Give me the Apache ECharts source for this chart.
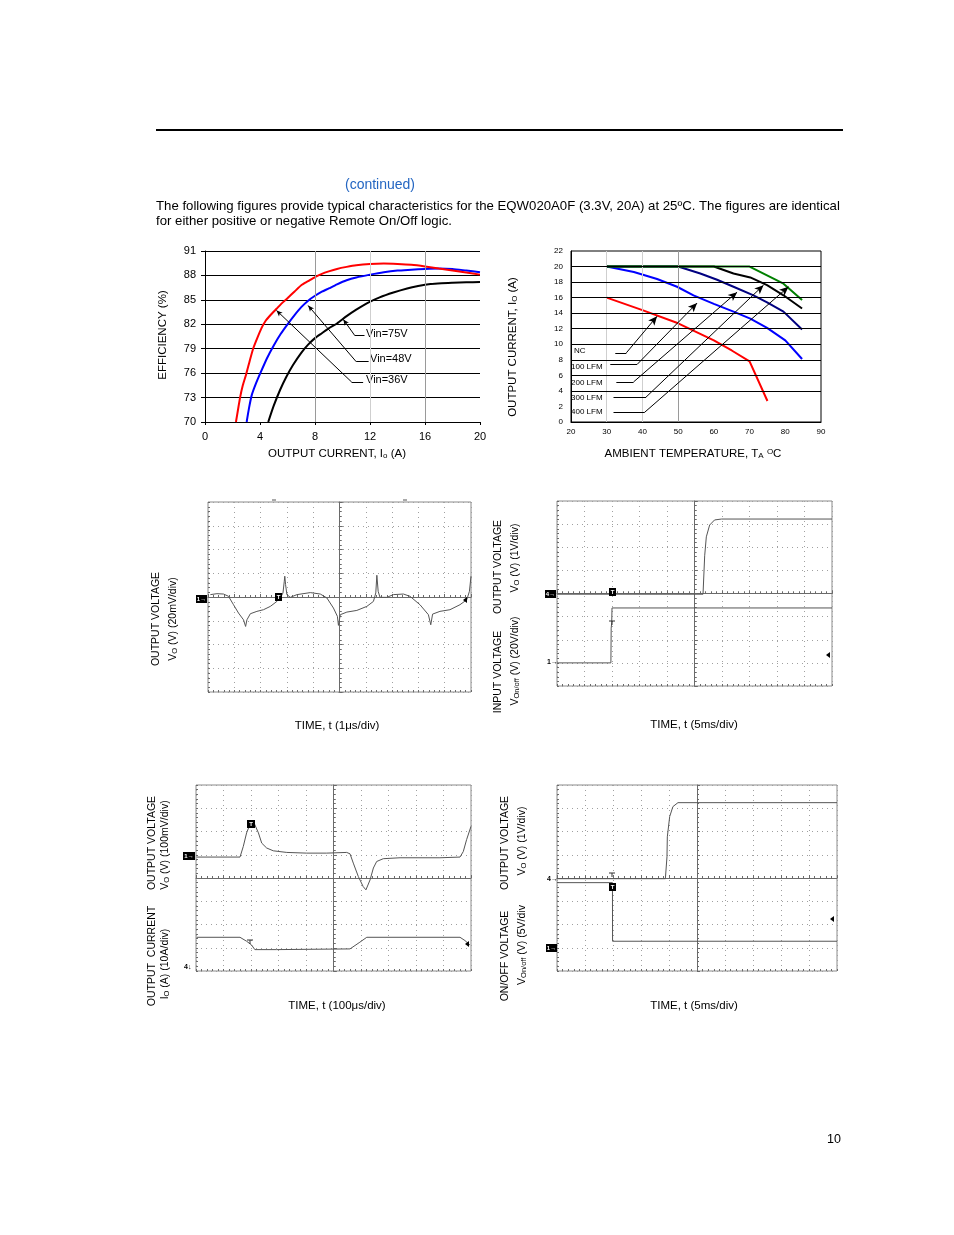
<!DOCTYPE html>
<html><head><meta charset="utf-8">
<script src="https://cdn.jsdelivr.net/npm/echarts@6/dist/echarts.min.js"></script>
<style>html,body{margin:0;padding:0;background:#fff}#c{width:954px;height:1235px}</style>
</head><body><div id="c"></div>
<script>
const FONT = '"Liberation Sans", Arial, sans-serif';

// ---------- Efficiency vs output current ----------
const effXTicks = [0, 4, 8, 12, 16, 20];
const effYTicks = [70, 73, 76, 79, 82, 85, 88, 91];
const effVGrid = [8, 12, 16];
const effVGridColors = ['#9a9a9a', '#cfcfcf', '#9a9a9a'];
const eff36V = [[2.25,70],[2.4,71.5],[2.55,73],[2.75,74.5],[3.0,75.9],[3.25,77.5],[3.5,79],[3.8,80.3],[4.1,81.5],[4.4,82.4],[4.8,83.2],[5.2,83.9],[5.6,84.6],[6.0,85.2],[6.5,86],[7,86.8],[7.5,87.3],[8,87.8],[8.5,88.2],[9,88.5],[9.6,88.8],[10.3,89.05],[11,89.25],[12,89.4],[13,89.45],[14,89.4],[15,89.3],[16,89.1],[17,88.85],[18,88.6],[19,88.35],[20,88.1]];
const eff48V = [[3.03,70],[3.2,71.7],[3.4,73.3],[3.7,74.7],[4.0,75.9],[4.5,77.8],[5,79.4],[5.5,80.8],[6,82],[6.5,83.1],[7,84.1],[7.5,84.9],[8,85.5],[8.5,86],[9,86.4],[9.6,86.9],[10.3,87.4],[11,87.75],[12,88.1],[13,88.4],[14,88.6],[15,88.7],[16,88.8],[17,88.85],[18,88.8],[19,88.6],[20,88.4]];
const eff75V = [[4.6,70],[5.0,72],[5.45,73.9],[5.9,75.5],[6.4,77],[7,78.5],[7.5,79.5],[8,80.3],[8.5,80.9],[9,81.5],[9.6,82.1],[10.3,83],[11,83.8],[11.8,84.6],[12.7,85.3],[13.7,85.9],[14.7,86.4],[15.5,86.7],[16.4,86.95],[17.2,87.05],[18,87.1],[19,87.15],[20,87.2]];
const effLabels = ['Vin=75V', 'Vin=48V', 'Vin=36V'];
// leader: [label end, elbow, tip on curve]
const effLeaders = [
  [[11.6,80.6],[10.9,80.6],[10.06,82.6]],
  [[11.9,77.4],[11.0,77.4],[7.5,84.3]],
  [[11.5,74.9],[10.67,74.9],[5.2,83.7]]
];

// ---------- Derating ----------
const derXTicks = [20,30,40,50,60,70,80,90];
const derYTicks = [0,2,4,6,8,10,12,14,16,18,20,22];
const derHGrid = [4,6,8,10,12,14,16,18,20];
const derVGrid = [30, 40, 50];
const derVGridColors = ['#cfcfcf', '#cfcfcf', '#9a9a9a'];
const derNC = [[30,16],[40,14.4],[50,12.7],[60,10.5],[65,9.2],[70,7.8],[75,2.7]];
const der100 = [[30,20],[37.6,19.3],[44.1,18.4],[49.7,17.4],[54.3,16.3],[60,15.2],[65.5,14.2],[70.2,13.3],[74.9,12.1],[80,10.5],[84.7,8.1]];
const der200 = [[30,20],[50,20],[56.2,19.1],[60.9,18.3],[65.5,17.4],[71.1,16.3],[74.9,15.4],[79.5,14.2],[84.7,11.9]];
const der300 = [[30,20],[60,20],[65.5,19.1],[70.2,18.6],[74.9,17.6],[79.5,16.3],[84.7,14.6]];
const der400 = [[30,20],[70,20],[79.5,17.8],[84.7,15.7]];
const derNames = ['NC', '100 LFM', '200 LFM', '300 LFM', '400 LFM'];
const derLeaders = [
  [[32.4,8.9],[35.5,8.9],[44.1,13.6]],
  [[31.0,7.4],[38.5,7.4],[55.3,15.3]],
  [[32.7,5.15],[37.5,5.15],[66.5,16.7]],
  [[31.9,3.2],[41.0,3.2],[73.9,17.6]],
  [[31.9,1.2],[40.5,1.2],[80.9,17.4]]
];

// ---------- Scope 1: output ripple (t in us, mV) ----------
const rippleT = [0.09,0.34,0.59,0.78,0.97,1.16,1.35,1.43,1.48,1.61,1.86,2.11,2.37,2.62,2.75,2.85,2.90,2.92,2.95,3.00,3.13,3.38,3.89,4.27,4.52,4.77,4.92,4.96,5.03,5.28,5.66,6.04,6.29,6.38,6.42,6.47,6.54,6.80,7.05,7.43,7.68,8.06,8.38,8.47,8.54,8.82,9.20,9.58,9.84,9.94,10.0];
const rippleMV = [2.0,2.8,2.5,0.6,-6.5,-13.5,-19.2,-24.8,-19.2,-14.1,-12.1,-10.7,-7.9,-3.7,-0.8,3.4,13.2,17.5,10.4,2.0,-0.3,2.0,3.7,2.5,-0.8,-9.3,-16.3,-23.9,-14.9,-12.7,-11.3,-7.9,-3.7,3.4,18.3,4.8,-0.3,-0.3,2.0,2.5,0.6,-6.5,-14.9,-23.4,-14.4,-12.1,-10.7,-6.5,-2.3,4.8,17.5];

// ---------- Scope 2: start-up from Vin (t in ms) ----------
const su1T = [0,26.55,26.85,27.15,27.75,28.65,29.9,50];
const su1Vo = [0,0,1.66,2.48,2.99,3.21,3.25,3.25];
const su1TinV = [0,9.8,9.85,9.95,10.0,50];
const su1Vin = [0,0,30,35,47.5,47.5];

// ---------- Scope 3: transient response (t in us) ----------
const trT = [2,160,172,184,196,208,215,227,239,257,281,330,402,475,548,560,572,590,608,618,633,645,657,681,742,887,960,972,984,1000];
const trMV = [0,0,46,104,140,155,154,104,60,39,27,20,17,17,20,14,-26,-83,-127,-141,-98,-47,-19,-7,-3,-3,0,24,75,132];
const trIT = [2,160,184,202,214,293,300,560,596,621,960,978,996];
const trIA = [13,13,11.3,9.7,7.7,7.7,8,8,10.9,13,13,11.6,9.7];

// ---------- Scope 4: start-up from remote on/off (t in ms) ----------
const su2T = [0,19.35,19.64,19.7,20.12,20.7,21.6,50];
const su2Vo = [0,0,0.94,1.8,2.67,3.1,3.27,3.27];
const su2OnT = [0,9.9,9.92,50];
const su2On = [14,14,1.4,1.4];

const zip = (a, b) => a.map((v, i) => [v, b[i]]);

const grids = [], xAxes = [], yAxes = [], series = [], graphics = [];
const lbl = (size) => ({fontSize:size, color:'#000', fontFamily:FONT});

// ===== Efficiency chart =====
(function(){
  const g = grids.length;
  grids.push({left:205, top:251, width:275, height:171, show:false});
  const xi = xAxes.length, yi = yAxes.length;
  xAxes.push({gridIndex:g, type:'value', min:effXTicks[0], max:effXTicks[effXTicks.length-1], interval:4,
    axisLine:{show:true, onZero:false, lineStyle:{color:'#000'}}, axisTick:{show:true, length:3, lineStyle:{color:'#000'}},
    axisLabel:Object.assign(lbl(11), {margin:9}), splitLine:{show:false}});
  yAxes.push({gridIndex:g, type:'value', min:effYTicks[0], max:effYTicks[effYTicks.length-1], interval:3,
    axisLine:{show:true, onZero:false, lineStyle:{color:'#000'}}, axisTick:{show:true, length:4, lineStyle:{color:'#000'}},
    axisLabel:Object.assign(lbl(11), {margin:9}), splitLine:{show:true, lineStyle:{color:'#000', width:1}}});
  const base = {type:'line', xAxisIndex:xi, yAxisIndex:yi, showSymbol:false, symbol:'none', silent:true};
  series.push(Object.assign({}, base, {data:[], z:1, markLine:{silent:true, symbol:'none', label:{show:false},
    data: effVGrid.map((v, i) => ({xAxis:v, lineStyle:{color:effVGridColors[i], width:1, type:'solid'}}))}}));
  const leaderData = [];
  effLeaders.forEach(p => {
    leaderData.push([{coord:p[0], symbol:'none'}, {coord:p[1], symbol:'none'}]);
    leaderData.push([{coord:p[1], symbol:'none'}, {coord:p[2], symbol:'arrow', symbolSize:[4,6]}]);
  });
  series.push(Object.assign({}, base, {data:[], z:2, markLine:{silent:true, label:{show:false},
    lineStyle:{color:'#000', width:1, type:'solid'}, data:leaderData}}));
  [[eff75V,'#000000'],[eff48V,'#0000ff'],[eff36V,'#ff0000']].forEach(([d,c]) => {
    series.push(Object.assign({}, base, {data:d, smooth:0.2, z:4, lineStyle:{color:c, width:2}}));
  });
  const lp = [[366,334],[370,359],[366,380]];
  effLabels.forEach((t, i) => graphics.push({type:'text', x:lp[i][0], y:lp[i][1], style:{text:t, font:'11px ' + FONT, fill:'#000', align:'left', verticalAlign:'middle'}}));
})();

// ===== Derating chart =====
(function(){
  const g = grids.length;
  grids.push({left:571, top:251, width:250, height:171, show:true, borderColor:'#000', borderWidth:1, backgroundColor:'transparent'});
  const xi = xAxes.length, yi = yAxes.length;
  xAxes.push({gridIndex:g, type:'value', min:derXTicks[0], max:derXTicks[derXTicks.length-1], interval:10,
    axisLine:{show:true, onZero:false, lineStyle:{color:'#000'}}, axisTick:{show:false},
    axisLabel:Object.assign(lbl(8), {margin:6}), splitLine:{show:false}});
  yAxes.push({gridIndex:g, type:'value', min:derYTicks[0], max:derYTicks[derYTicks.length-1], interval:2,
    axisLine:{show:true, onZero:false, lineStyle:{color:'#000'}}, axisTick:{show:false},
    axisLabel:Object.assign(lbl(8), {margin:8}), splitLine:{show:false}});
  const base = {type:'line', xAxisIndex:xi, yAxisIndex:yi, showSymbol:false, symbol:'none', silent:true};
  series.push(Object.assign({}, base, {data:[], z:1, markLine:{silent:true, symbol:'none', label:{show:false},
    data: derVGrid.map((v, i) => ({xAxis:v, lineStyle:{color:derVGridColors[i], width:1, type:'solid'}}))
      .concat(derHGrid.map(v => ({yAxis:v, lineStyle:{color:'#000', width:1, type:'solid'}})))}}));
  const leaderData = [];
  derLeaders.forEach(p => {
    leaderData.push([{coord:p[0], symbol:'none'}, {coord:p[1], symbol:'none'}]);
    leaderData.push([{coord:p[1], symbol:'none'}, {coord:p[2], symbol:'arrow', symbolSize:[6,9]}]);
  });
  series.push(Object.assign({}, base, {data:[], z:2, markLine:{silent:true, label:{show:false},
    lineStyle:{color:'#000', width:1, type:'solid'}, data:leaderData}}));
  [[derNC,'#ff0000'],[der100,'#0000ff'],[der200,'#000080'],[der300,'#000000'],[der400,'#008000']].forEach(([d,c]) => {
    series.push(Object.assign({}, base, {data:d, z:4, lineStyle:{color:c, width:2}}));
  });
  const lp = [[574,351],[571,367],[571,383],[571,398],[571,412]];
  derNames.forEach((t, i) => graphics.push({type:'text', x:lp[i][0], y:lp[i][1], style:{text:t, font:'8px ' + FONT, fill:'#000', align:'left', verticalAlign:'middle'}}));
})();

// ===== Scope helper =====
function scope(box, xRange, chans){
  const g = grids.length;
  grids.push({left:box[0], top:box[1], width:box[2], height:box[3], show:true, borderColor:'#8a8a8a', borderWidth:1, backgroundColor:'transparent'});
  const ts = {color:'#6a6a6a', width:1};
  const xc = xAxes.length, yc = yAxes.length;
  const common = {gridIndex:g, type:'value', interval:1, axisLabel:{show:false}};
  xAxes.push(Object.assign({}, common, {min:-5, max:5, axisLine:{show:true, onZero:true, onZeroAxisIndex:yc, lineStyle:ts},
    axisTick:{show:true, inside:true, length:3, lineStyle:ts}, minorTick:{show:true, splitNumber:5, length:2, lineStyle:ts},
    splitLine:{show:true, lineStyle:{color:'#a0a0a0', width:1, type:[1,4]}}}));
  yAxes.push(Object.assign({}, common, {min:-4, max:4, axisLine:{show:true, onZero:true, onZeroAxisIndex:xc, lineStyle:ts},
    axisTick:{show:true, inside:true, length:3, lineStyle:ts}, minorTick:{show:true, splitNumber:5, length:2, lineStyle:ts},
    splitLine:{show:true, lineStyle:{color:'#a0a0a0', width:1, type:[1,4]}}}));
  xAxes.push(Object.assign({}, common, {min:-5, max:5, axisLine:{show:false, onZero:true, onZeroAxisIndex:yc},
    axisTick:{show:true, inside:false, length:3, lineStyle:ts}, minorTick:{show:true, splitNumber:5, length:2, lineStyle:ts}, splitLine:{show:false}}));
  yAxes.push(Object.assign({}, common, {min:-4, max:4, axisLine:{show:false, onZero:true, onZeroAxisIndex:xc},
    axisTick:{show:true, inside:false, length:3, lineStyle:ts}, minorTick:{show:true, splitNumber:5, length:2, lineStyle:ts}, splitLine:{show:false}}));
  // edge ticks
  xAxes.push(Object.assign({}, common, {min:-5, max:5, position:'bottom', axisLine:{show:false, onZero:false},
    axisTick:{show:true, inside:true, length:2, lineStyle:ts}, minorTick:{show:true, splitNumber:5, length:2, lineStyle:ts}, splitLine:{show:false}}));
  yAxes.push(Object.assign({}, common, {min:-4, max:4, position:'left', axisLine:{show:false, onZero:false},
    axisTick:{show:true, inside:true, length:2, lineStyle:ts}, minorTick:{show:true, splitNumber:5, length:2, lineStyle:ts}, splitLine:{show:false}}));
  const xs = xAxes.length;
  xAxes.push({gridIndex:g, type:'value', show:false, min:xRange[0], max:xRange[1], axisLine:{onZero:false}});
  chans.forEach(ch => {
    const yi = yAxes.length;
    yAxes.push({gridIndex:g, type:'value', show:false, min:ch.min, max:ch.max, axisLine:{onZero:false}});
    series.push({type:'line', xAxisIndex:xs, yAxisIndex:yi, data:zip(ch.t, ch.v), showSymbol:false, symbol:'none', silent:true, z:5,
      lineStyle:{color:'#555555', width:1}});
  });
}

scope([208, 502, 263, 190], [0, 10], [{t:rippleT, v:rippleMV, min:-80, max:80}]);
scope([557, 501, 275, 185], [0, 50], [
  {t:su1T, v:su1Vo, min:-3.97, max:4.03},
  {t:su1TinV, v:su1Vin, min:-20, max:140}
]);
scope([196, 785, 275, 186], [0, 1000], [
  {t:trT, v:trMV, min:-490, max:310},
  {t:trIT, v:trIA, min:-1.5, max:78.5}
]);
scope([557, 785, 280, 186], [0, 50], [
  {t:su2T, v:su2Vo, min:-3.97, max:4.03},
  {t:su2OnT, v:su2On, min:-5, max:35}
]);

// ===== Text & decorations =====
function T(x, y, text, size, opt){
  opt = opt || {};
  const el = {type:'text', x:x, y:y, rotation:opt.rot || 0, z:10,
    style:{text:text, font:size + 'px ' + FONT, fill:opt.color || '#000', align:opt.align || 'center', verticalAlign:'middle'}};
  if (opt.rich) el.style.rich = opt.rich;
  graphics.push(el);
}
const sub = (fs) => ({s:{fontSize:fs, fontFamily:FONT, fill:'#000', verticalAlign:'bottom', lineHeight:fs}});
const sup = (fs) => ({s:{fontSize:fs, fontFamily:FONT, fill:'#000', verticalAlign:'top', lineHeight:fs}});
const R = Math.PI / 2;

graphics.push({type:'line', shape:{x1:156, y1:130, x2:843, y2:130}, style:{stroke:'#000', lineWidth:2}});
T(380, 185, '(continued)', 14, {color:'#2466c2'});
T(156, 206, 'The following figures provide typical characteristics for the EQW020A0F (3.3V, 20A) at 25\u00baC. The figures are identical', 13.2, {align:'left'});
T(156, 221, 'for either positive or negative Remote On/Off logic.', 13.2, {align:'left'});

T(163, 335, 'EFFICIENCY (%)', 11.5, {rot:R});
T(337, 454, 'OUTPUT CURRENT, I{s|o} (A)', 11.5, {rich:sub(8)});
T(513, 347, 'OUTPUT CURRENT, I{s|O} (A)', 11.5, {rot:R, rich:sub(8)});
T(693, 454, 'AMBIENT TEMPERATURE, T{a|A} {s|O}C', 11.5, {rich:Object.assign({}, sup(8), {a:{fontSize:8, fontFamily:FONT, fill:'#000', verticalAlign:'bottom', lineHeight:8}})});

// scope labels
T(156, 619, 'OUTPUT VOLTAGE', 10.5, {rot:R});
T(173, 619, 'V{s|O} (V) (20mV/div)', 10.5, {rot:R, rich:sub(7.5)});
T(337, 726, 'TIME, t (1\u03bcs/div)', 11.5);

T(498, 567, 'OUTPUT VOLTAGE', 10.5, {rot:R});
T(515, 558, 'V{s|O} (V) (1V/div)', 10.5, {rot:R, rich:sub(7.5)});
T(498, 672, 'INPUT VOLTAGE', 10.5, {rot:R});
T(515, 661, 'V{s|On/off} (V) (20V/div)', 10.5, {rot:R, rich:sub(7.5)});
T(694, 725, 'TIME, t (5ms/div)', 11.5);

T(152, 843, 'OUTPUT VOLTAGE', 10.5, {rot:R});
T(165, 845, 'V{s|O} (V) (100mV/div)', 10.5, {rot:R, rich:sub(7.5)});
T(152, 956, 'OUTPUT  CURRENT', 10.5, {rot:R});
T(165, 964, 'I{s|O} (A) (10A/div)', 10.5, {rot:R, rich:sub(7.5)});
T(337, 1006, 'TIME, t (100\u03bcs/div)', 11.5);

T(505, 843, 'OUTPUT VOLTAGE', 10.5, {rot:R});
T(522, 841, 'V{s|O} (V) (1V/div)', 10.5, {rot:R, rich:sub(7.5)});
T(505, 956, 'ON/OFF VOLTAGE', 10.5, {rot:R});
T(522, 945, 'V{s|On/off} (V) (5V/div', 10.5, {rot:R, rich:sub(7.5)});
T(694, 1006, 'TIME, t (5ms/div)', 11.5);

T(834, 1140, '10', 12.5);

// scope markers
function box(x, y, w, h, text){
  graphics.push({type:'rect', shape:{x:x, y:y, width:w, height:h}, style:{fill:'#000'}, z:11});
  graphics.push({type:'text', x:x + w/2, y:y + h/2, z:12, style:{text:text, font:'bold 6px ' + FONT, fill:'#fff', align:'center', verticalAlign:'middle'}});
}
function plain(x, y, text){
  graphics.push({type:'text', x:x, y:y, z:12, style:{text:text, font:'bold 7px ' + FONT, fill:'#000', align:'left', verticalAlign:'middle'}});
}
function leftArrow(x, y){
  graphics.push({type:'polygon', shape:{points:[[x, y],[x + 4, y - 3],[x + 4, y + 3]]}, style:{fill:'#000'}, z:12});
}
function tMark(x, y){
  graphics.push({type:'line', shape:{x1:x - 3, y1:y, x2:x + 3, y2:y}, style:{stroke:'#333', lineWidth:1}, z:12});
  graphics.push({type:'line', shape:{x1:x, y1:y, x2:x, y2:y + 4}, style:{stroke:'#333', lineWidth:1}, z:12});
}
// scope 1
box(196, 595, 11, 8, '1\u2192'); box(275, 593, 7, 8, 'T'); leftArrow(463, 600);
graphics.push({type:'line', shape:{x1:272, y1:500, x2:276, y2:500}, style:{stroke:'#555', lineWidth:1}});
graphics.push({type:'line', shape:{x1:403, y1:500, x2:407, y2:500}, style:{stroke:'#555', lineWidth:1}});
// scope 2
box(545, 590, 11, 8, '4\u2192'); box(609, 588, 7, 8, 'T'); plain(547, 662, '1\u2192'); leftArrow(826, 655); tMark(612, 621);
// scope 3
box(183, 852, 12, 8, '1\u2192'); box(247, 820, 8, 8, 'T'); plain(184, 967, '4\u2193'); leftArrow(465, 944); tMark(250, 940);
// scope 4
plain(547, 879, '4\u2192'); tMark(612, 873); box(609, 883, 7, 8, 'T'); box(546, 944, 11, 8, '1\u2192'); leftArrow(830, 919);

const chart = echarts.init(document.getElementById('c'), null, {renderer:'canvas', width:954, height:1235});
chart.setOption({animation:false, backgroundColor:'#fff', grid:grids, xAxis:xAxes, yAxis:yAxes, series:series, graphic:{elements:graphics}});
</script>
</body></html>
